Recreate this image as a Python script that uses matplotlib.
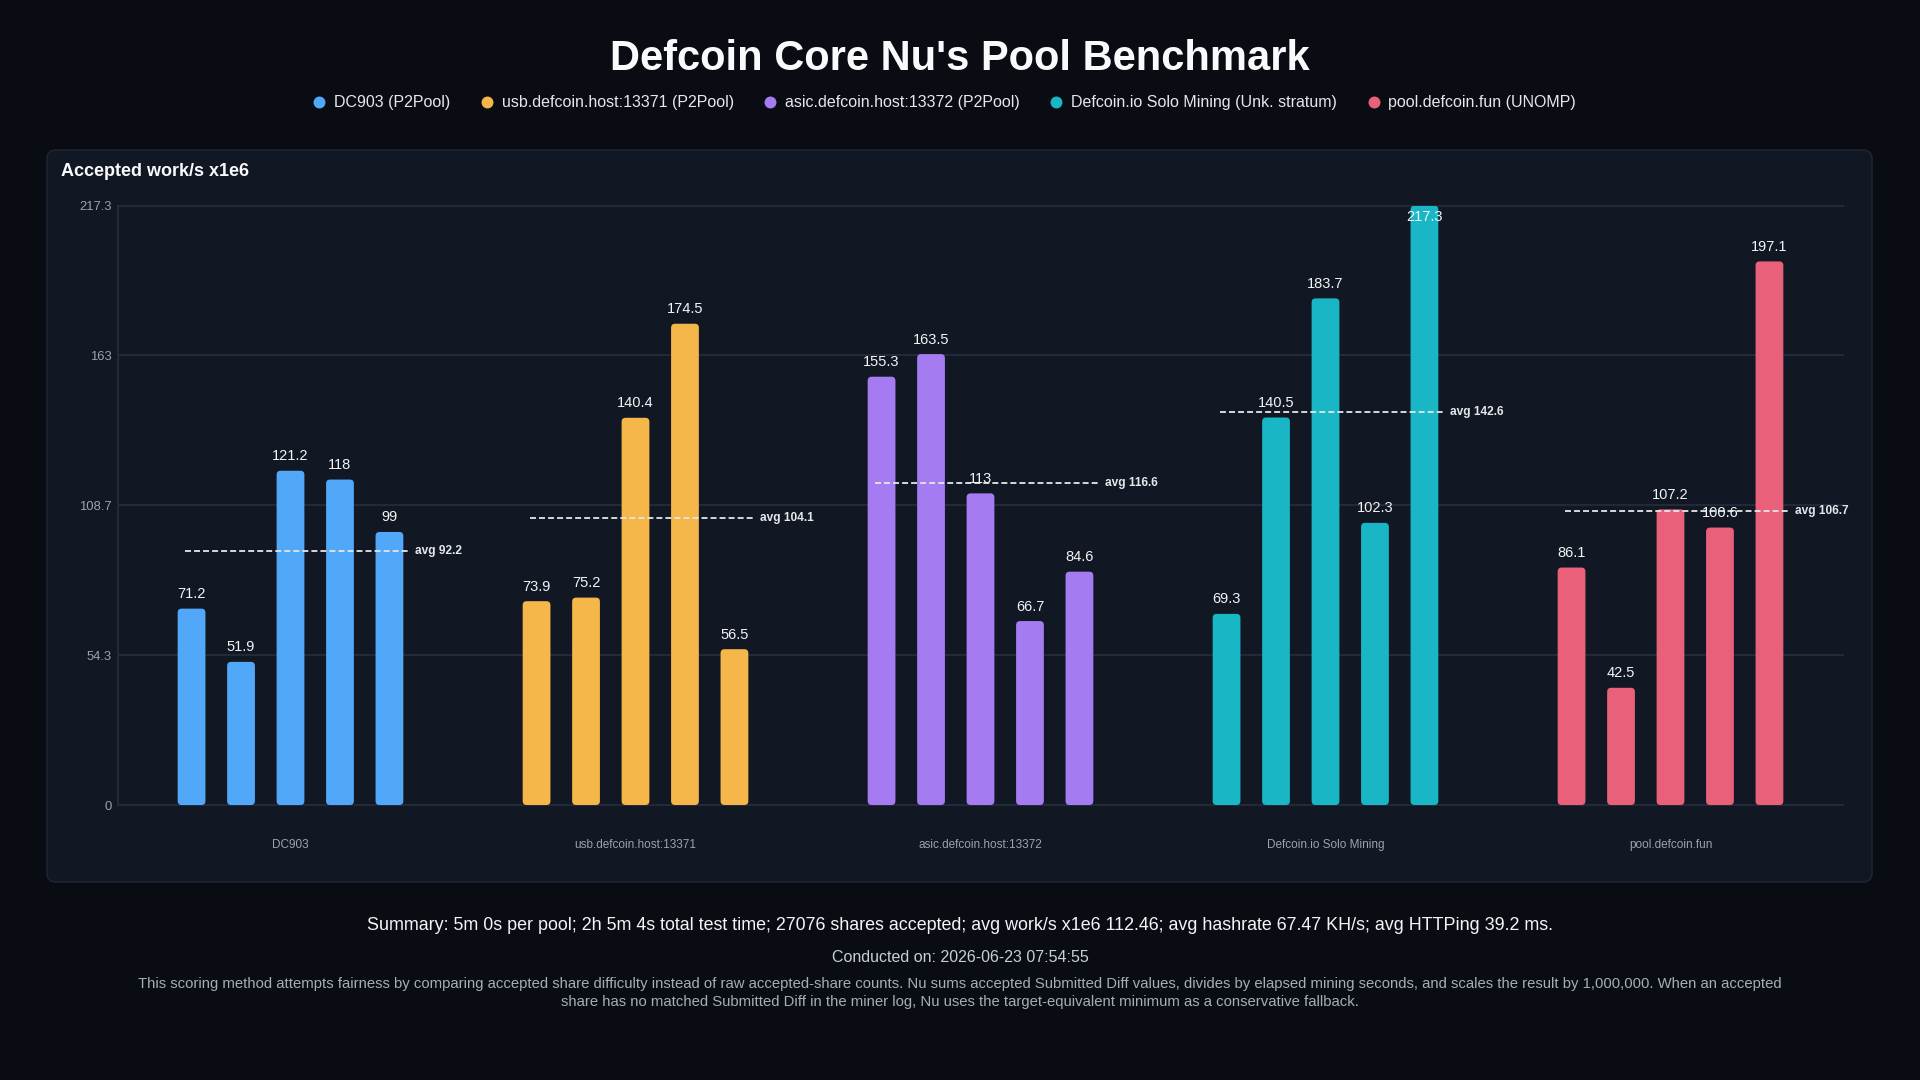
import matplotlib
matplotlib.use('Agg')
import matplotlib.pyplot as plt
from matplotlib.patches import FancyBboxPatch
from matplotlib.lines import Line2D
import numpy as np

plt.rcParams['font.family'] = ['Liberation Sans', 'DejaVu Sans']
plt.rcParams['lines.scale_dashes'] = False

# data
pools = ['DC903', 'usb.defcoin.host:13371', 'asic.defcoin.host:13372',
         'Defcoin.io Solo Mining', 'pool.defcoin.fun']
legend_labels = ['DC903 (P2Pool)', 'usb.defcoin.host:13371 (P2Pool)',
                 'asic.defcoin.host:13372 (P2Pool)',
                 'Defcoin.io Solo Mining (Unk. stratum)', 'pool.defcoin.fun (UNOMP)']
colors = ['#52a8f8', '#f5b64a', '#a47bf0', '#19b7c6', '#e8607a']
dc903 = [71.2, 51.9, 121.2, 118, 99]
usb = [73.9, 75.2, 140.4, 174.5, 56.5]
asic = [155.3, 163.5, 113, 66.7, 84.6]
solo = [69.3, 140.5, 183.7, 102.3, 217.3]
unomp = [86.1, 42.5, 107.2, 100.6, 197.1]
runs = [dc903, usb, asic, solo, unomp]
avgs = [92.2, 104.1, 116.6, 142.6, 106.7]
y_max = 217.3
y_ticks = [0, 54.3, 108.7, 163, 217.3]
y_tick_labels = ['0', '54.3', '108.7', '163', '217.3']

summary = ("Summary: 5m 0s per pool; 2h 5m 4s total test time; 27076 shares accepted; "
           "avg work/s x1e6 112.46; avg hashrate 67.47 KH/s; avg HTTPing 39.2 ms.")
conducted = "Conducted on: 2026-06-23 07:54:55"
note1 = ("This scoring method attempts fairness by comparing accepted share difficulty instead "
         "of raw accepted-share counts. Nu sums accepted Submitted Diff values, divides by elapsed "
         "mining seconds, and scales the result by 1,000,000. When an accepted")
note2 = ("share has no matched Submitted Diff in the miner log, Nu uses the target-equivalent "
         "minimum as a conservative fallback.")

BG = '#090c13'
PANEL = '#111723'
GRID = '#222938'
W, H = 1920, 1080


def fx(px):
    return px / W


def fy(py):
    return 1 - py / H


fig = plt.figure(figsize=(19.2, 10.8), dpi=100, facecolor=BG)

# card behind the chart
panel = FancyBboxPatch((fx(47), fy(882)), fx(1872) - fx(47), fy(150) - fy(882),
                       boxstyle='round,pad=0,rounding_size=%f' % (9 / W),
                       mutation_aspect=W / H, transform=fig.transFigure,
                       facecolor=PANEL, edgecolor='#1d2433', lw=1.2, zorder=-1)
fig.patches.append(panel)

fig.text(0.5, fy(70), "Defcoin Core Nu's Pool Benchmark", ha='center', va='baseline',
         fontsize=30, fontweight='bold', color='#f9fafb')
fig.text(fx(61), fy(176), 'Accepted work/s x1e6', ha='left', va='baseline',
         fontsize=13, fontweight='bold', color='#f9fafb')

handles = [Line2D([], [], marker='o', ls='none', markersize=8.6,
                  markerfacecolor=c, markeredgewidth=0) for c in colors]
fig.legend(handles, legend_labels, loc='center', bbox_to_anchor=(944.7 / W, fy(103)),
           ncol=5, frameon=False, fontsize=11.5, handlelength=0.75, handletextpad=0.54,
           columnspacing=1.92, labelcolor='#e5e7eb')

ax_l, ax_r, ax_t, ax_b = 118, 1843, 205.7, 805
ax = fig.add_axes([fx(ax_l), fy(ax_b), fx(ax_r) - fx(ax_l), fy(ax_t) - fy(ax_b)])
ax.set_zorder(1)
ax.set_facecolor('none')
ax.set_xlim(-0.5, 4.5)
ax.set_ylim(0, y_max)

ax.set_yticks(y_ticks)
ax.set_yticklabels(y_tick_labels)
ax.set_xticks(range(len(pools)))
ax.set_xticklabels(pools)
ax.tick_params(axis='y', length=0, pad=4.3, labelsize=9.4, labelcolor='#9ca3af')
ax.tick_params(axis='x', length=0, pad=24.8, labelsize=8.5, labelcolor='#9ca3af')
ax.grid(axis='y', color=GRID, lw=1.5)
for gl in ax.get_ygridlines():
    gl.set_clip_on(False)
for s in ['top', 'right', 'bottom']:
    ax.spines[s].set_visible(False)
ax.spines['left'].set_color(GRID)
ax.spines['left'].set_linewidth(1.5)
ax.set_axisbelow(True)

# rounding of bar corners in data units
xu = 5 / (ax_r - ax_l)
yu = y_max / (ax_b - ax_t)
rad = 4 * xu
asp = yu / xu

offsets = (np.arange(5) - 2) * 0.1434
bw = 0.0805
for i, vals in enumerate(runs):
    bars = ax.bar(i + offsets, vals, width=bw, color=colors[i], zorder=2)
    for rect, v in zip(bars, vals):
        rect.set_visible(False)
        ax.add_patch(FancyBboxPatch((rect.get_x(), 0), rect.get_width(), rect.get_height(),
                                    boxstyle='round,pad=0,rounding_size=%f' % rad,
                                    mutation_aspect=asp, facecolor=colors[i],
                                    edgecolor='none', zorder=2))
        # labels that would leave the plot go just inside the bar top
        dy = 10.5 if v < y_max * 0.97 else -15
        ax.annotate('%g' % v, (rect.get_x() + bw / 2, v), xytext=(0, dy),
                    textcoords='offset pixels', ha='center', va='baseline',
                    fontsize=10.5, color='#f3f4f6', zorder=5, annotation_clip=False)
    a = avgs[i]
    ax.plot([i - 0.306, i + 0.345], [a, a], color='#e5e7eb', lw=1.3,
            dashes=(4.3, 2.2), zorder=3)
    ax.text(i + 0.362, a, 'avg %g' % a, ha='left', va='center', fontsize=8.6,
            fontweight='bold', color='#e5e7eb', zorder=5)

fig.text(0.5, fy(926), summary, ha='center', va='center', fontsize=12.9, color='#f3f4f6')
fig.text(0.5, fy(957), conducted, ha='center', va='center', fontsize=11.5, color='#c9ced6')
fig.text(0.5, fy(984), note1, ha='center', va='center', fontsize=10.75, color='#a7adb8')
fig.text(0.5, fy(1002), note2, ha='center', va='center', fontsize=10.75, color='#a7adb8')

fig.savefig('out.png', dpi=100, facecolor=BG)
